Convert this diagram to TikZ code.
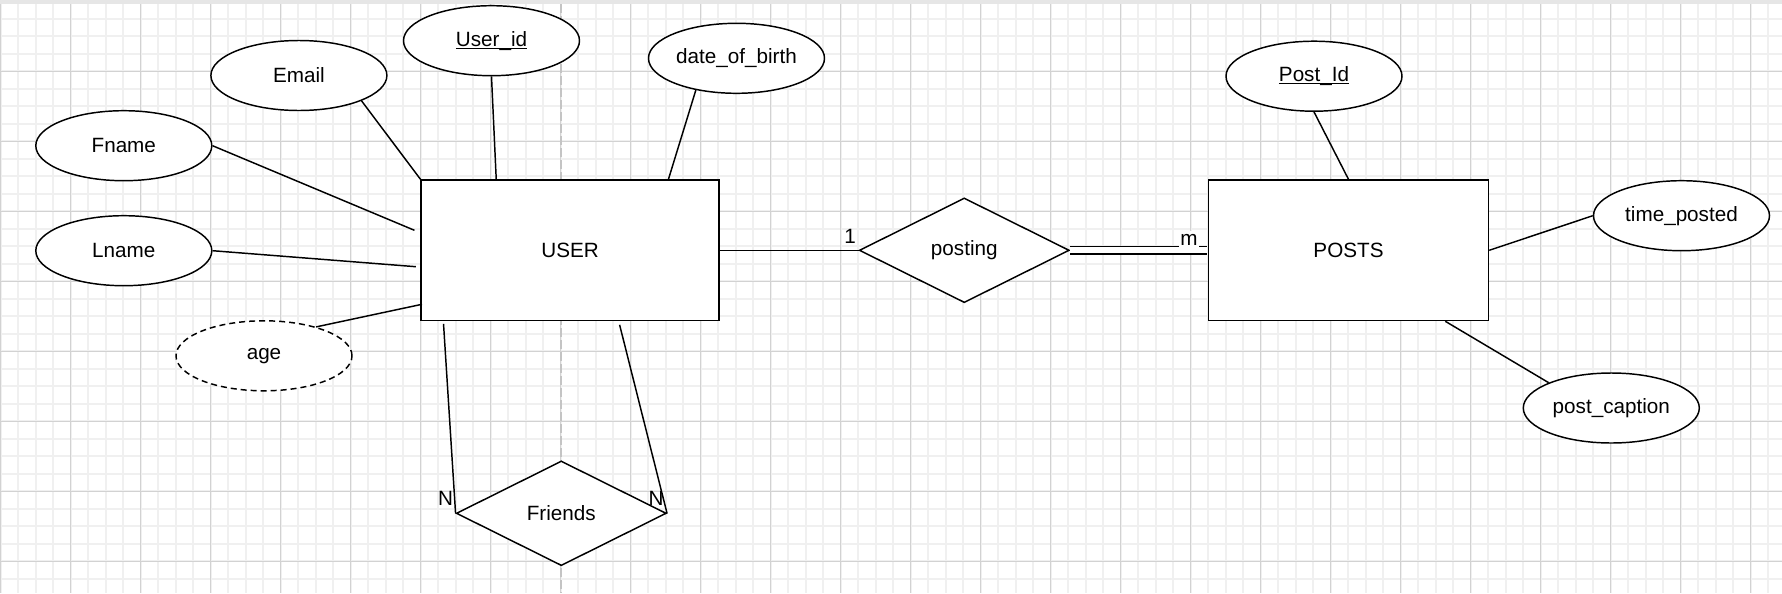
\documentclass[tikz,border=0pt]{standalone}
\usepackage{fontspec}
\setmainfont{Liberation Sans}
\usetikzlibrary{shapes.geometric,calc}
\definecolor{gridminor}{HTML}{F0F0F0}
\definecolor{gridmajor}{HTML}{D2D2D2}
\definecolor{pagebrk}{HTML}{C4C4C4}
\definecolor{topbar}{HTML}{E6E6E6}
\newcommand{\keyattr}[1]{\setbox0=\hbox{#1}\rlap{\rule[-2pt]{\wd0}{0.8pt}}\box0}
\begin{document}
\begin{tikzpicture}[x=0.75pt,y=-0.75pt,
  every node/.style={font=\fontsize{15.5pt}{18pt}\selectfont},
  attr/.style={ellipse, draw, fill=white, line width=1.1pt, minimum width=132pt, minimum height=52.5pt, inner sep=0pt},
  derived/.style={attr, dash pattern=on 4.5pt off 3pt},
  entity/.style={rectangle, draw, fill=white, line width=1.1pt, inner sep=0pt},
  rel/.style={diamond, draw, fill=white, line width=1.1pt, inner sep=0pt, aspect=2, minimum width=157.5pt, minimum height=78.5pt},
  link/.style={line width=1.1pt},
  card/.style={inner sep=0.5pt},
  minorline/.style={gridminor, line width=1.5pt},
  majorline/.style={gridmajor, line width=0.8pt},
  pagebreak/.style={pagebrk, line width=1.5pt, dash pattern=on 6.75pt off 2.25pt},
]
\useasboundingbox (0,0) rectangle (1782,593);
\clip (0,0) rectangle (1782,593);
\fill[white] (0,0) rectangle (1782,593);
% grid
\foreach \i in {0,...,101} { \draw[minorline] ({0.5+17.5*\i},0) -- ({0.5+17.5*\i},593); }
\foreach \j in {0,...,33} { \draw[minorline] (0,{1.3+17.5*\j}) -- (1782,{1.3+17.5*\j}); }
\foreach \i in {0,...,25} { \draw[majorline] ({0.5+70*\i},0) -- ({0.5+70*\i},593); }
\foreach \j in {0,...,8} { \draw[majorline] (0,{1.3+70*\j}) -- (1782,{1.3+70*\j}); }
\fill[topbar] (0,0) rectangle (1782,4);
\draw[pagebreak] (561,4) -- (561,593);

% entities
\node[entity, minimum width=223.5pt, minimum height=105.4pt] (user) at (570.2,250.3) {USER};
\node[entity, minimum width=210pt, minimum height=105.4pt] (posts) at (1348.5,250.3) {POSTS};
% relationships
\node[rel] (posting) at (964.3,250.3) {posting};
\node[rel] (friends) at (561.3,513.3) {Friends};
% attributes
\node[attr] (userid) at (491.5,40.7) {\keyattr{User\_id}};
\node[attr] (email) at (298.9,75.5) {Email};
\node[attr] (fname) at (123.8,145.7) {Fname};
\node[attr] (lname) at (123.8,250.7) {Lname};
\node[derived] (age) at (264,355.8) {age};
\node[attr] (dob) at (736.5,58.3) {date\_of\_birth};
\node[attr] (postid) at (1314,76.2) {\keyattr{Post\_Id}};
\node[attr] (timeposted) at (1681.5,215.7) {time\_posted};
\node[attr] (postcaption) at (1611.3,408) {post\_caption};

% connectors
\draw[link] (userid.south) -- ($(user.north west)!0.253!(user.north east)$);
\draw[link] (email.-22) -- (user.north west);
\draw[link] (fname.east) -- ($(user.west)+(-6,-20)$);
\draw[link] (lname.east) -- ($(user.west)+(-4.6,16.4)$);
\draw[link] (age.29) -- ($(user.south west)+(1.5,-17)$);
\draw[link] (dob.218) -- ($(user.north west)!0.828!(user.north east)$);
\draw[link] (user.east) -- (posting.west);
\draw[link, double, double distance=4.4pt, shorten >=0.6pt] (posting.east) -- (posts.west);
\draw[link] (postid.south) -- (posts.north);
\draw[link] (timeposted.west) -- (posts.east);
\draw[link] (postcaption.158) -- ($(posts.south west)!0.844!(posts.south east)$);
\draw[link] ($(user.south west)!0.077!(user.south east)+(0,2.5)$) -- (friends.west);
\draw[link] ($(user.south west)!0.665!(user.south east)+(0,3.5)$) -- (friends.east);

% cardinalities
\node[card] (c1) at (850,236) {1};
\node[card, fill=white, inner xsep=0.8pt, inner ysep=2.4pt] (cm) at (1189,239.5) {m};
\node[card] (cn1) at (445.7,498.3) {N};
\node[card] (cn2) at (656,498.3) {N};
\end{tikzpicture}
\end{document}
